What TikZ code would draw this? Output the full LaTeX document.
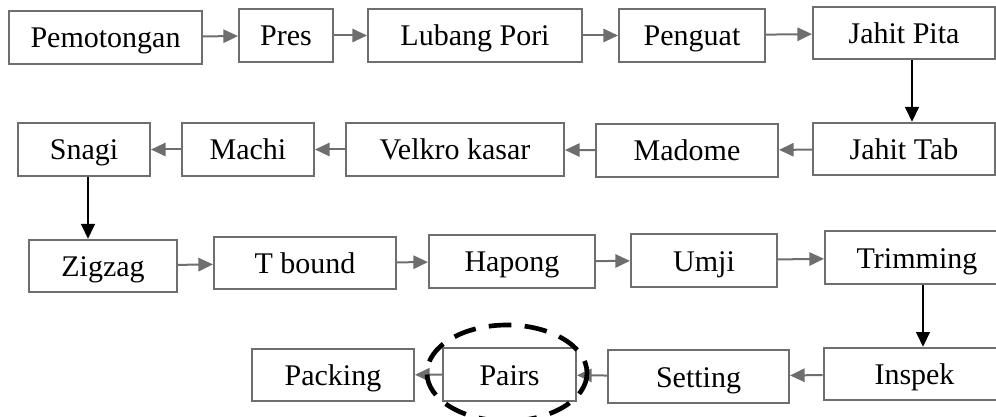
\documentclass[tikz,border=0pt]{standalone}
\usepackage{fontspec}
\setmainfont{Liberation Serif}
\usepackage{tikz}
\usetikzlibrary{arrows.meta}
\definecolor{boxgray}{HTML}{6E6E6E}
\tikzset{
	% ---- default
	every path/.style={line width=1.5pt},
	every node/.style={font=\fontsize{22.5}{27}\selectfont},
	% ---- custom
	stepbox/.style={draw=boxgray, fill=white, minimum height=39.5pt, inner sep=0pt,
		text height=20pt, text depth=4.25pt, line width=1.5pt},
	flow/.style={draw=boxgray, line width=1.5pt, -{Triangle[length=11pt,width=10pt]}, color=boxgray},
	drop/.style={draw=black, line width=1pt, -{Triangle[length=11pt,width=10.5pt]}},
	highlight/.style={draw=black, line width=3.5pt, dash pattern=on 17pt off 10pt},
}
\begin{document}
\begin{tikzpicture}[x=0.75pt, y=-0.75pt]

	\useasboundingbox (0,0) rectangle (996,417);

% boxes, first row %{{{2

	\node[stepbox, minimum width=144.75pt] (pem)     at (105.5,37.5) {Pemotongan};
	\node[stepbox, minimum width=70.5pt]   (pres)    at (286,35.5)   {Pres};
	\node[stepbox, minimum width=160.5pt]  (lubang)  at (475,35.5)   {Lubang Pori};
	\node[stepbox, minimum width=109.5pt]  (penguat) at (692,35.5)   {Penguat};
	\node[stepbox, minimum width=136.5pt]  (pita)    at (904,33)     {Jahit Pita};

% boxes, second row %{{{2

	\node[stepbox, minimum width=99pt]     (snagi)   at (84,149.5)   {Snagi};
	\node[stepbox, minimum width=99pt]     (machi)   at (248,149.5)  {Machi};
	\node[stepbox, minimum width=163.5pt]  (velkro)  at (455,149.5)  {Velkro kasar};
	\node[stepbox, minimum width=136.5pt]  (madome)  at (687,150.5)  {Madome};
	\node[stepbox, minimum width=136.5pt]  (tab)     at (904,149)    {Jahit Tab};

% boxes, third row %{{{2

	\node[stepbox, minimum width=111pt]    (zigzag)  at (103,266)    {Zigzag};
	\node[stepbox, minimum width=136.5pt]  (tbound)  at (305,263)    {T bound};
	\node[stepbox, minimum width=124.5pt]  (hapong)  at (512,261.5)  {Hapong};
	\node[stepbox, minimum width=109.5pt]  (umji)    at (704,260.5)  {Umji};
	\node[stepbox, minimum width=138pt]    (trim)    at (917,257.5)  {Trimming};

% boxes, fourth row %{{{2

	\node[stepbox, minimum width=121.5pt]  (packing) at (333,375)    {Packing};
	\node[stepbox, minimum width=99.75pt]  (pairs)   at (509.5,374.5){Pairs};
	\node[stepbox, minimum width=135.75pt] (setting) at (698.5,376.5){Setting};
	\node[stepbox, minimum width=136.5pt]  (inspek)  at (914.5,374)  {Inspek};

% connectors %{{{2

	\draw[flow] (pem) -- (pres);
	\draw[flow] (pres) -- (lubang);
	\draw[flow] (lubang) -- (penguat);
	\draw[flow] (penguat) -- (pita);
	\draw[drop] ([xshift=6pt]pita.south) -- ([xshift=6pt]tab.north);

	\draw[flow] (tab) -- (madome);
	\draw[flow] (madome) -- (velkro);
	\draw[flow] (velkro) -- (machi);
	\draw[flow] (machi) -- (snagi);
	\draw[drop] ([xshift=3pt]snagi.south) -- ([xshift=3pt]snagi.south |- zigzag.north);

	\draw[flow] (zigzag) -- (tbound);
	\draw[flow] (tbound) -- (hapong);
	\draw[flow] (hapong) -- (umji);
	\draw[flow] (umji) -- (trim);
	\draw[drop] ([xshift=4.5pt]trim.south) -- ([xshift=4.5pt]trim.south |- inspek.north);

	\draw[flow] (inspek) -- (setting);
	\draw[flow] (setting) -- (pairs);
	\draw[flow] (pairs) -- (packing);

% highlight %{{{2

	\draw[highlight] ([shift={(-2.5,-1.5)}]pairs.center) ellipse [x radius=80, y radius=48];

% closing %{{{2

\end{tikzpicture}
\end{document}
